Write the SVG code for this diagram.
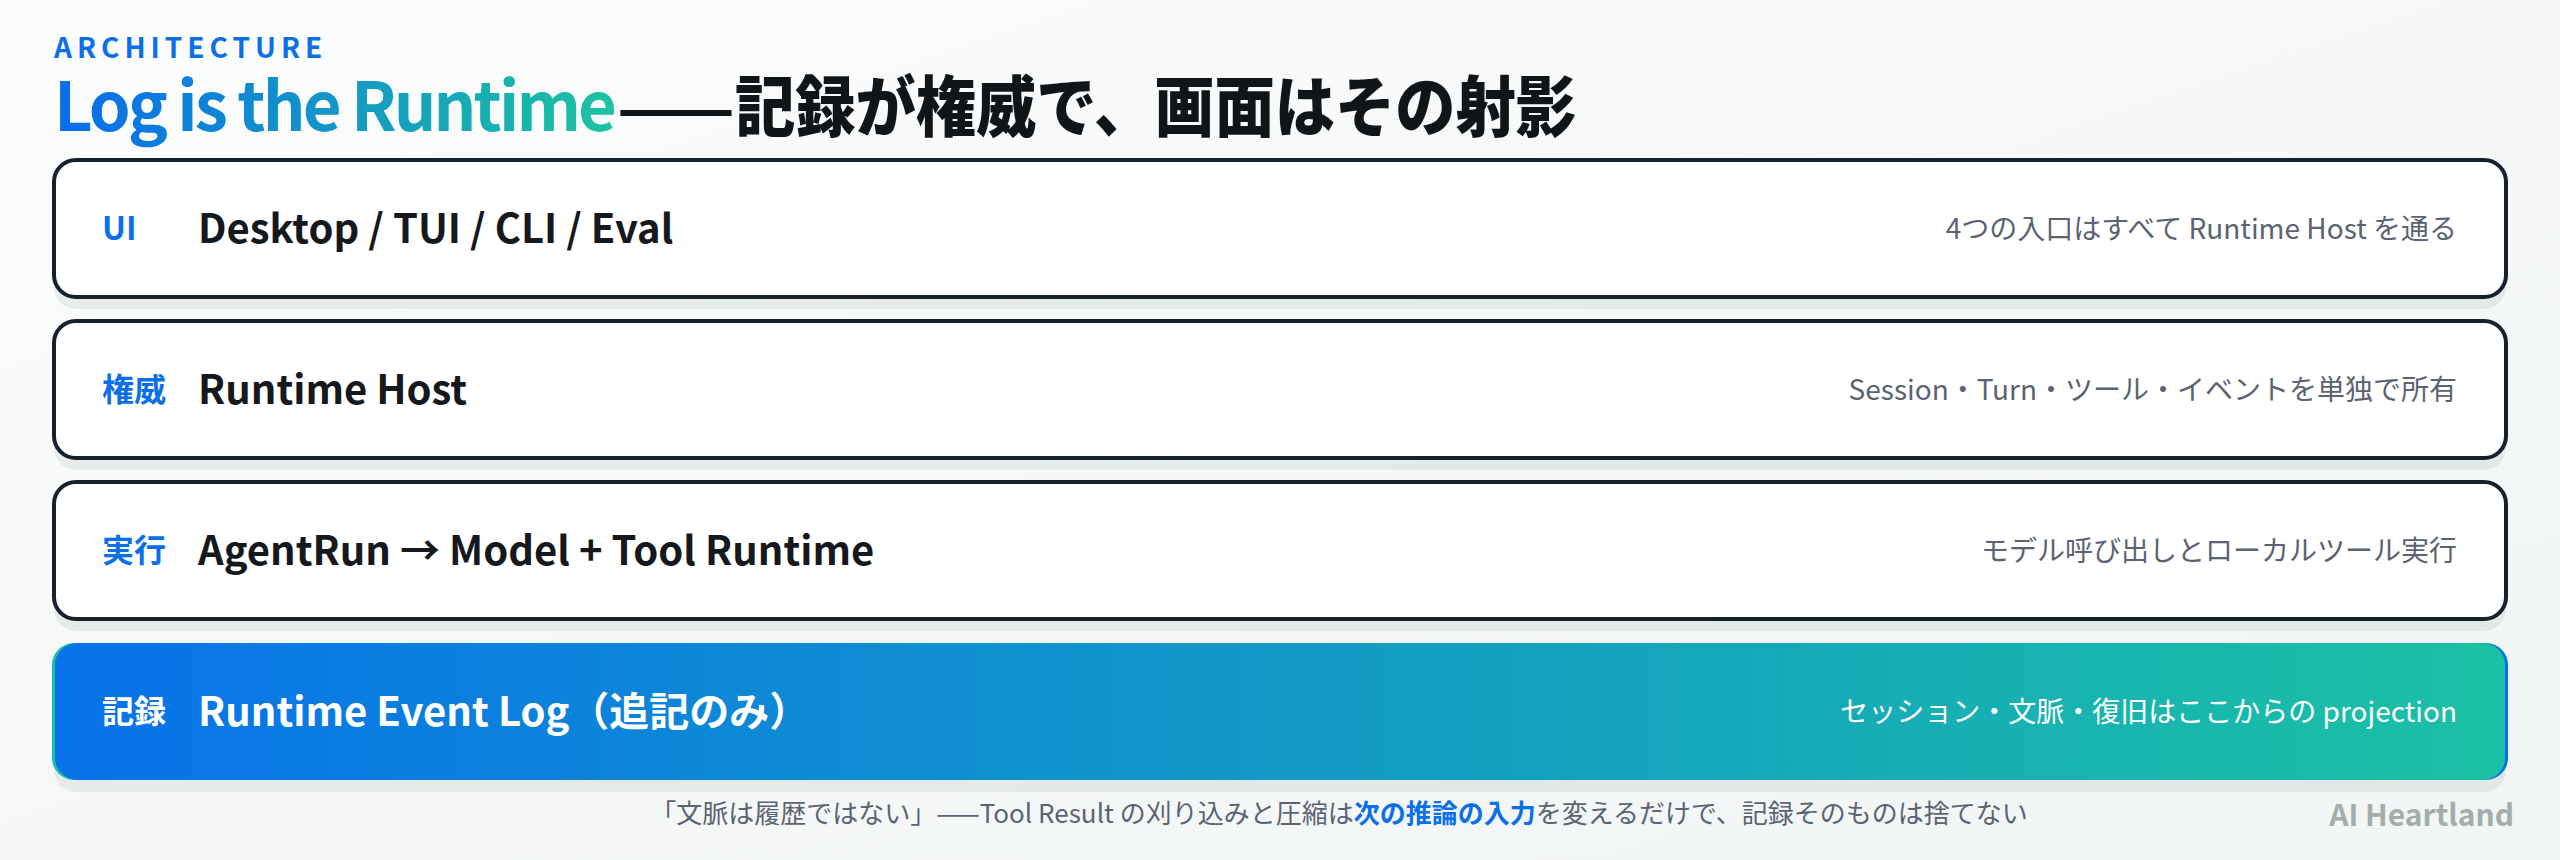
<svg xmlns="http://www.w3.org/2000/svg" width="2560" height="860" viewBox="0 0 2560 860">
<defs>
<linearGradient id="bg" x1="0" y1="0" x2="1" y2="1">
<stop offset="0" stop-color="#fbfcfc"/>
<stop offset="1" stop-color="#f2f5f5"/>
</linearGradient>
<linearGradient id="titleGrad" gradientUnits="userSpaceOnUse" x1="54" y1="0" x2="617" y2="0">
<stop offset="0" stop-color="#0a6cec"/>
<stop offset="1" stop-color="#1cc3a0"/>
</linearGradient>
<linearGradient id="logGrad" x1="0" y1="0" x2="1" y2="0">
<stop offset="0" stop-color="#0872ea"/>
<stop offset="1" stop-color="#1bc1a4"/>
</linearGradient>
<linearGradient id="logGradRev" x1="0" y1="0" x2="1" y2="0">
<stop offset="0" stop-color="#1bc1a4"/>
<stop offset="1" stop-color="#0872ea"/>
</linearGradient>
</defs>
<style>
text { font-family: "Noto Sans CJK JP", "Noto Sans", sans-serif; }
.card { fill: #ffffff; stroke: #17212b; stroke-width: 4; }
.shadow { fill: #1e3a46; fill-opacity: 0.08; }
.tag { font-size: 32px; font-weight: 700; fill: #0a6fe8; }
.main { font-size: 40px; font-weight: 700; fill: #15191d; }
.desc { font-size: 28px; font-weight: 400; fill: #5b6372; text-anchor: end; }
.white { fill: #ffffff; }
</style>
<rect width="2560" height="860" fill="url(#bg)"/>

<g id="header">
<text x="54" y="58" font-size="28" font-weight="700" fill="#0a6fe8" letter-spacing="5">ARCHITECTURE</text>
<text x="54" y="131" font-size="67" font-weight="700" fill="url(#titleGrad)" textLength="563">Log is the Runtime</text>
<text x="617" y="131" font-size="64" font-weight="700" fill="#111418" textLength="118" lengthAdjust="spacingAndGlyphs">——</text>
<text x="735" y="131" font-size="66" font-weight="900" fill="#111418" textLength="841" lengthAdjust="spacingAndGlyphs">記録が権威で、画面はその射影</text>
</g>

<g id="layer-ui">
<rect class="shadow" x="54" y="172" width="2452" height="137" rx="22"/>
<rect class="card" x="54" y="160" width="2452" height="137" rx="22"/>
<text class="tag" x="102" y="240">UI</text>
<text class="main" x="198" y="243">Desktop / TUI / CLI / Eval</text>
<text class="desc" x="2457" y="239">4つの入口はすべて Runtime Host を通る</text>
</g>

<g id="layer-host">
<rect class="shadow" x="54" y="333" width="2452" height="137" rx="22"/>
<rect class="card" x="54" y="321" width="2452" height="137" rx="22"/>
<text class="tag" x="102" y="401">権威</text>
<text class="main" x="198" y="404">Runtime Host</text>
<text class="desc" x="2457" y="400">Session・Turn・ツール・イベントを単独で所有</text>
</g>

<g id="layer-exec">
<rect class="shadow" x="54" y="494" width="2452" height="137" rx="22"/>
<rect class="card" x="54" y="482" width="2452" height="137" rx="22"/>
<text class="tag" x="102" y="562">実行</text>
<text class="main" x="198" y="565">AgentRun → Model + Tool Runtime</text>
<text class="desc" x="2457" y="561">モデル呼び出しとローカルツール実行</text>
</g>

<g id="layer-log">
<rect class="shadow" x="54" y="655" width="2452" height="137" rx="22"/>
<rect x="52" y="643" width="2456" height="137" rx="22" fill="url(#logGradRev)"/>
<rect x="55" y="643" width="2450" height="137" rx="22" fill="url(#logGrad)"/>
<text class="tag white" x="102" y="723">記録</text>
<text class="main white" x="198" y="726">Runtime Event Log（追記のみ）</text>
<text class="desc white" x="2457" y="722">セッション・文脈・復旧はここからの projection</text>
</g>

<g id="connectors"></g>

<g id="footer">
<text x="1339" y="823" font-size="26" fill="#5b6372" text-anchor="middle">「文脈は履歴ではない」——Tool Result の刈り込みと圧縮は<tspan font-weight="700" fill="#0a6fe8">次の推論の入力</tspan>を変えるだけで、記録そのものは捨てない</text>
<text x="2514" y="826" font-size="30" font-weight="700" fill="#a3aeaa" text-anchor="end">AI Heartland</text>
</g>
</svg>
